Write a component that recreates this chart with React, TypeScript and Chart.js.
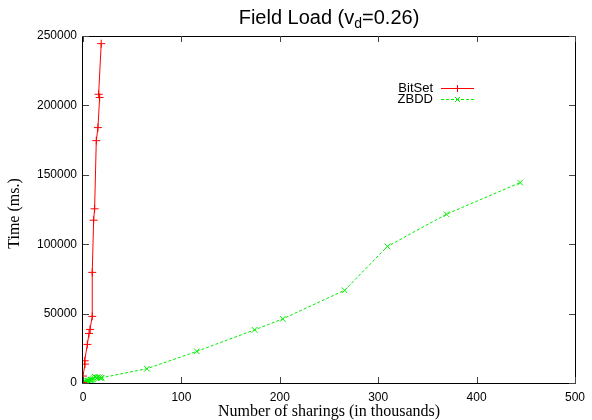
import React, { useEffect, useRef } from "react";
import Chart from "chart.js/auto";

const chartTitleMain = "Field Load (v";
const chartTitleSub = "d";
const chartTitleEnd = "=0.26)";
const xAxisTitle = "Number of sharings (in thousands)";
const yAxisTitle = "Time (ms.)";

const seriesNames = ["BitSet", "ZBDD"];

// x in thousands of sharings, y in ms
const bitsetX = [0, 0, 2, 1.7, 4.4, 6.1, 7.1, 9.4, 9.4, 10.8, 11.8, 13.5, 15.2, 16.9, 15.9, 18.5];
const bitsetY = [300, 5000, 13600, 16000, 27800, 35700, 38600, 48000, 79700, 117300, 125500, 174600, 184000, 205700, 208000, 244500];

const zbddX = [0, 1, 2, 3, 4, 5, 6, 7, 8, 9, 10, 11, 12, 14, 15, 17, 18, 19, 65, 115.7, 174.4, 203, 265.9, 309.4, 369.4, 444.3];
const zbddY = [300, 500, 800, 1000, 1300, 1500, 1800, 2000, 2300, 2500, 2800, 3500, 4500, 3800, 4200, 4000, 3500, 3800, 10300, 22800, 38300, 46200, 66800, 98400, 121600, 144400];

const xTicks = [0, 100, 200, 300, 400, 500];
const yTicks = [0, 50000, 100000, 150000, 200000, 250000];

const toPoints = (xs: number[], ys: number[]) => xs.map((x, i) => ({ x, y: ys[i] }));

const framePlugin = {
  id: "frame",
  afterDatasetsDraw(chart: any) {
    const { ctx, chartArea } = chart;
    const xs = chart.scales.x;
    const ys = chart.scales.y;
    const { left, right, top, bottom } = chartArea;
    ctx.save();
    ctx.strokeStyle = "#000";
    ctx.lineWidth = 1;
    ctx.beginPath();
    ctx.rect(Math.round(left) - 0.5, Math.round(top) + 0.5, Math.round(right - left) + 1, Math.round(bottom - top));
    ctx.stroke();
    ctx.strokeStyle = "#444";
    ctx.beginPath();
    const tl = 6;
    yTicks.forEach((v) => {
      const y = Math.round(ys.getPixelForValue(v)) + 0.5;
      ctx.moveTo(left, y);
      ctx.lineTo(left + tl, y);
      ctx.moveTo(right, y);
      ctx.lineTo(right - tl, y);
    });
    xTicks.forEach((v) => {
      const x = Math.round(xs.getPixelForValue(v)) + 0.5;
      ctx.moveTo(x, bottom);
      ctx.lineTo(x, bottom - tl);
      ctx.moveTo(x, top);
      ctx.lineTo(x, top + tl);
    });
    ctx.stroke();
    ctx.restore();
  },
};

const textPlugin = {
  id: "texts",
  afterDraw(chart: any) {
    const { ctx, chartArea } = chart;
    const cx = (chartArea.left + chartArea.right) / 2;
    ctx.save();
    // Title with subscript
    const mainFont = "20px 'Liberation Sans', Arial, sans-serif";
    const subFont = "14px 'Liberation Sans', Arial, sans-serif";
    ctx.font = mainFont;
    const w1 = ctx.measureText(chartTitleMain).width;
    const w3 = ctx.measureText(chartTitleEnd).width;
    ctx.font = subFont;
    const w2 = ctx.measureText(chartTitleSub).width;
    let x = cx - (w1 + w2 + w3) / 2;
    const base = 24;
    ctx.fillStyle = "#000";
    ctx.textBaseline = "alphabetic";
    ctx.textAlign = "left";
    ctx.font = mainFont;
    ctx.fillText(chartTitleMain, x, base);
    x += w1;
    ctx.font = subFont;
    ctx.fillText(chartTitleSub, x, base + 4);
    x += w2;
    ctx.font = mainFont;
    ctx.fillText(chartTitleEnd, x, base);

    // Axis titles
    ctx.font = "16px 'Liberation Serif', 'Times New Roman', serif";
    ctx.textAlign = "center";
    ctx.textBaseline = "middle";
    ctx.fillText(xAxisTitle, cx, 412);
    ctx.save();
    ctx.translate(15, (chartArea.top + chartArea.bottom) / 2 + 4);
    ctx.rotate(-Math.PI / 2);
    ctx.fillText(yAxisTitle, 0, 0);
    ctx.restore();

    // Legend
    const colors = ["#ff0000", "#00ee00"];
    const dashes = [[], [3, 2]];
    const rows = [88, 99];
    ctx.font = "13px 'Liberation Sans', Arial, sans-serif";
    ctx.textAlign = "right";
    rows.forEach((ry, i) => {
      ctx.fillStyle = "#000";
      ctx.fillText(seriesNames[i], 433, ry);
      ctx.strokeStyle = colors[i];
      ctx.lineWidth = 1;
      ctx.setLineDash(dashes[i]);
      ctx.beginPath();
      ctx.moveTo(441, ry + 0.5);
      ctx.lineTo(474, ry + 0.5);
      ctx.stroke();
      ctx.setLineDash([]);
      ctx.beginPath();
      const mx = 457.5;
      const my = ry + 0.5;
      if (i === 0) {
        ctx.moveTo(mx - 3.5, my);
        ctx.lineTo(mx + 3.5, my);
        ctx.moveTo(mx, my - 3.5);
        ctx.lineTo(mx, my + 3.5);
      } else {
        ctx.moveTo(mx - 2.5, my - 2.5);
        ctx.lineTo(mx + 2.5, my + 2.5);
        ctx.moveTo(mx - 2.5, my + 2.5);
        ctx.lineTo(mx + 2.5, my - 2.5);
      }
      ctx.stroke();
    });
    ctx.restore();
  },
};

export default function App() {
  const ref = useRef<HTMLCanvasElement | null>(null);
  useEffect(() => {
    if (!ref.current) return;
    const chart = new Chart(ref.current, {
      type: "line",
      data: {
        datasets: [
          {
            label: seriesNames[0],
            data: toPoints(bitsetX, bitsetY),
            borderColor: "#ff0000",
            backgroundColor: "#ff0000",
            borderWidth: 1,
            pointStyle: "cross",
            pointRadius: 4,
            pointBorderWidth: 1,
            pointBorderColor: "#ff0000",
            tension: 0,
            fill: false,
          },
          {
            label: seriesNames[1],
            data: toPoints(zbddX, zbddY),
            borderColor: "#00ee00",
            backgroundColor: "#00ee00",
            borderWidth: 1,
            borderDash: [3, 2],
            pointStyle: "crossRot",
            pointRadius: 4,
            pointBorderWidth: 1,
            pointBorderColor: "#00ee00",
            tension: 0,
            fill: false,
          },
        ],
      },
      options: {
        responsive: false,
        animation: false,
        events: [],
        layout: { padding: { left: 0, top: 36, right: 15, bottom: 0 } },
        plugins: { legend: { display: false }, title: { display: false }, tooltip: { enabled: false } },
        scales: {
          x: {
            type: "linear",
            min: 0,
            max: 500,
            grid: { display: false, drawTicks: false },
            border: { display: false },
            afterFit: (s: any) => {
              s.height = 37;
            },
            afterBuildTicks: (s: any) => {
              s.ticks = xTicks.map((v) => ({ value: v }));
            },
            ticks: {
              padding: 7,
              color: "#000",
              font: { family: "'Liberation Sans', Arial, sans-serif", size: 12 },
            },
          },
          y: {
            type: "linear",
            min: 0,
            max: 250000,
            grid: { display: false, drawTicks: false },
            border: { display: false },
            afterFit: (s: any) => {
              s.width = 83;
            },
            afterBuildTicks: (s: any) => {
              s.ticks = yTicks.map((v) => ({ value: v }));
            },
            ticks: {
              padding: 6,
              color: "#000",
              font: { family: "'Liberation Sans', Arial, sans-serif", size: 12 },
              callback: (v: any) => String(v),
            },
          },
        },
      },
      plugins: [framePlugin, textPlugin],
    });
    return () => chart.destroy();
  }, []);
  return (
    <div style={{ position: "absolute", left: 0, top: 0, width: 592, height: 420, background: "#fff" }}>
      <canvas ref={ref} width={592} height={420} style={{ display: "block" }} />
    </div>
  );
}
